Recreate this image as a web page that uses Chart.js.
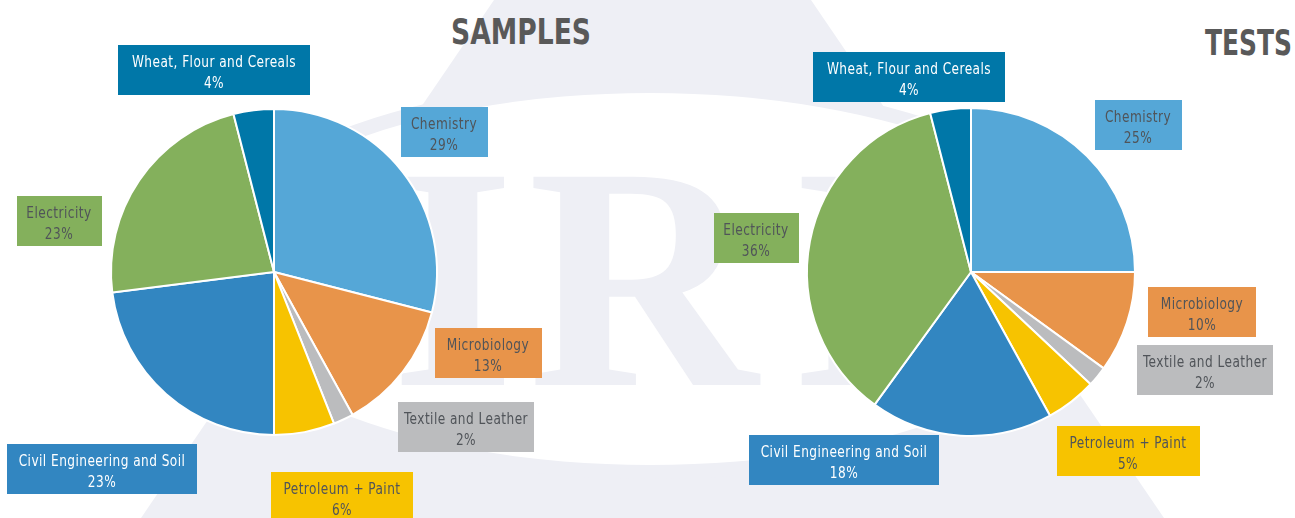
<!DOCTYPE html>
<html>
<head>
<meta charset="utf-8">
<script src="https://cdn.jsdelivr.net/npm/chart.js@4.4.1/dist/chart.umd.min.js"></script>
<style>
  html, body { margin: 0; padding: 0; background: #fff; }
  #stage { position: relative; width: 1295px; height: 518px; overflow: hidden; }
  #mark { position: absolute; left: 0; top: 0; }
  #c-samples { position: absolute; left: 0; top: 0; }
  #c-tests { position: absolute; left: 647px; top: 0; }
</style>
</head>
<body>
<div id="stage">
  <!-- IRI logo watermark + titles -->
  <svg id="mark" width="1295" height="518">
    <polygon points="494,0 811,0 1164,518 141,518" fill="#EEEFF5"/>
    <ellipse cx="650" cy="279" rx="465" ry="200" fill="#EEEFF5"/>
    <ellipse cx="650" cy="279" rx="445" ry="186" fill="#fff"/>
    <g font-family="Liberation Serif, DejaVu Serif, serif" font-weight="bold" font-size="318" fill="#EEEFF5">
      <text x="391" y="385">I</text>
      <text x="528" y="385">R</text>
      <text x="791" y="385">I</text>
    </g>
    <g font-family="DejaVu Sans Condensed, sans-serif" font-weight="bold" font-size="36" fill="#595959">
      <text x="451" y="44" textLength="140" lengthAdjust="spacingAndGlyphs">SAMPLES</text>
      <text x="1205" y="55" textLength="87" lengthAdjust="spacingAndGlyphs">TESTS</text>
    </g>
  </svg>
  <canvas id="c-samples" width="647" height="518"></canvas>
  <canvas id="c-tests" width="648" height="518"></canvas>
</div>
<script>
// categories, clockwise from 12 o'clock
const categories = ['Chemistry', 'Microbiology', 'Textile and Leather', 'Petroleum + Paint',
  'Civil Engineering and Soil', 'Electricity', 'Wheat, Flour and Cereals'];
const samplesPct = [29, 13, 2, 6, 23, 23, 4];
const testsPct = [25, 10, 2, 5, 18, 36, 4];

const sliceColors = ['#55A7D7', '#E8944A', '#BBBCBE', '#F7C300', '#3286C1', '#84B05C', '#0077A8'];
const textColors = ['#505459', '#505459', '#505459', '#505459', '#ffffff', '#505459', '#ffffff'];

// label box layout: [dx, dy, width] from pie centre
const samplesBoxes = [[170, -140, 87], [214, 81, 107], [192, 155, 136], [68, 225, 142],
  [-172, 197, 190], [-215, -51, 85], [-60, -202, 192]];
const testsBoxes = [[167, -147, 87], [231, 40, 108], [234, 98, 136], [157, 179, 143],
  [-127, 188, 190], [-215, -34, 85], [-62, -195, 192]];

const SQUEEZE = 0.9; // reference uses a condensed face

const boxLabels = {
  id: 'boxLabels',
  afterDatasetsDraw(chart, args, opts) {
    const ctx = chart.ctx;
    const ds = chart.data.datasets[0];
    chart.getDatasetMeta(0).data.forEach((arc, i) => {
      const [dx, dy, w] = opts.boxes[i];
      const cx = arc.x + dx, cy = arc.y + dy;
      ctx.save();
      ctx.fillStyle = ds.backgroundColor[i];
      ctx.fillRect(Math.round(cx - w / 2), Math.round(cy - 25), w, 50);
      ctx.translate(cx, cy);
      ctx.scale(SQUEEZE, 1);
      ctx.font = '15px "DejaVu Sans Condensed", sans-serif';
      if ('letterSpacing' in ctx) ctx.letterSpacing = '0.5px';
      ctx.textAlign = 'center';
      ctx.textBaseline = 'alphabetic';
      ctx.fillStyle = textColors[i];
      ctx.fillText(chart.data.labels[i], 0, -3);
      ctx.fillText(ds.data[i] + '%', 0, 18);
      ctx.restore();
    });
  }
};

function makePie(id, values, boxes, padding) {
  return new Chart(document.getElementById(id), {
    type: 'pie',
    data: {
      labels: categories,
      datasets: [{ data: values, backgroundColor: sliceColors, borderColor: '#ffffff', borderWidth: 2 }]
    },
    options: {
      responsive: false,
      animation: false,
      events: [],
      layout: { padding },
      plugins: { legend: { display: false }, tooltip: { enabled: false }, boxLabels: { boxes } }
    },
    plugins: [boxLabels]
  });
}

makePie('c-samples', samplesPct, samplesBoxes, { left: 110, right: 209, top: 108, bottom: 82 });
makePie('c-tests', testsPct, testsBoxes, { left: 159, right: 159, top: 107, bottom: 81 });
</script>
</body>
</html>
